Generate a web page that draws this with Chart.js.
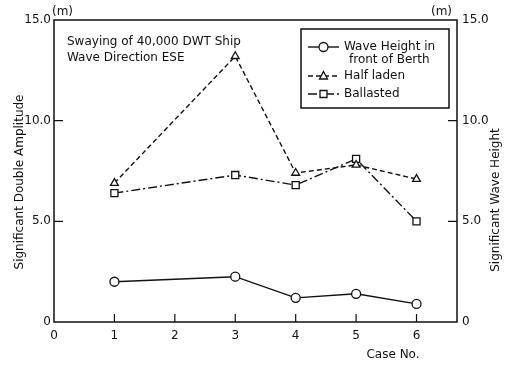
<!DOCTYPE html>
<html>
<head>
<meta charset="utf-8">
<script src="https://cdn.jsdelivr.net/npm/chart.js@4.4.1/dist/chart.umd.min.js"></script>
<style>
  body { margin: 0; background: #ffffff; }
  #chartCanvas { display: block; }
</style>
</head>
<body>
<canvas id="chartCanvas" width="507" height="367"></canvas>
<script>
"use strict";

// Data
const caseNos = [1, 3, 4, 5, 6];
const waveHeight = [2.0, 2.25, 1.2, 1.4, 0.9];     // Wave Height in front of Berth (right axis)
const halfLaden = [6.9, 13.2, 7.4, 7.8, 7.1];      // Half laden
const ballasted = [6.4, 7.3, 6.8, 8.1, 5.0];       // Ballasted
const yTicks = [0, 5, 10, 15];
const xTicks = [0, 1, 2, 3, 4, 5, 6];

const font = "DejaVu Sans";
const ink = "#111111";

function toPoints(values) {
    return caseNos.map((c, i) => ({x: c, y: values[i]}));
}

// Draw one marker shape (used by the legend)
function drawMarker(ctx, style, x, y) {
    ctx.save();
    ctx.setLineDash([]);
    ctx.fillStyle = "#ffffff";
    ctx.strokeStyle = ink;
    ctx.lineWidth = 1.3;
    ctx.beginPath();
    if (style == "circle") {
        ctx.arc(x, y, 4.5, 0, Math.PI * 2);
    } else if (style == "triangle") {
        ctx.moveTo(x, y - 4.5);
        ctx.lineTo(x + 4, y + 3);
        ctx.lineTo(x - 4, y + 3);
        ctx.closePath();
    } else {
        ctx.rect(x - 3.5, y - 3.5, 7, 7);
    }
    ctx.fill();
    ctx.stroke();
    ctx.restore();
}

// Frame, inward ticks, titles and the boxed legend
const decorations = {
    id: "decorations",
    afterDraw(chart) {
        const ctx = chart.ctx;
        const area = chart.chartArea;
        const xs = chart.scales.x;
        const ys = chart.scales.y;
        ctx.save();
        ctx.strokeStyle = ink;
        ctx.lineWidth = 1.5;
        ctx.setLineDash([]);
        ctx.strokeRect(area.left, area.top, area.right - area.left, area.bottom - area.top);

        // inward tick marks
        ctx.lineWidth = 1.2;
        [5, 10].forEach((v) => {
            const py = ys.getPixelForValue(v);
            ctx.beginPath();
            ctx.moveTo(area.left, py); ctx.lineTo(area.left + 9, py);
            ctx.moveTo(area.right, py); ctx.lineTo(area.right - 9, py);
            ctx.stroke();
        });
        [1, 2, 3, 4, 5, 6].forEach((v) => {
            const px = xs.getPixelForValue(v);
            ctx.beginPath();
            ctx.moveTo(px, area.bottom); ctx.lineTo(px, area.bottom - 8);
            ctx.stroke();
        });

        ctx.fillStyle = ink;
        ctx.font = "12px '" + font + "'";
        ctx.textBaseline = "middle";
        ctx.textAlign = "left";
        ctx.fillText("(m)", 52, 12);
        ctx.fillText("(m)", 431, 12);
        ctx.fillText("Swaying of 40,000 DWT Ship", 67, 42);
        ctx.fillText("Wave Direction ESE", 67, 58);
        ctx.textAlign = "center";
        ctx.fillText("Case No.", 393, 355);

        // axis titles, both read bottom to top
        ctx.save();
        ctx.translate(20, 182);
        ctx.rotate(-Math.PI / 2);
        ctx.fillText("Significant Double Amplitude", 0, 0);
        ctx.restore();
        ctx.save();
        ctx.translate(496, 200);
        ctx.rotate(-Math.PI / 2);
        ctx.fillText("Significant Wave Height", 0, 0);
        ctx.restore();

        // legend box
        ctx.lineWidth = 1.5;
        ctx.strokeRect(301, 29, 148, 79);
        const entries = [
            {y: 47, dash: [], marker: "circle", lines: ["Wave Height in", "front of Berth"]},
            {y: 76, dash: [5, 3], marker: "triangle", lines: ["Half laden"]},
            {y: 94, dash: [9, 3, 2, 3], marker: "rect", lines: ["Ballasted"]}
        ];
        ctx.textAlign = "left";
        entries.forEach((e) => {
            ctx.setLineDash(e.dash);
            ctx.lineWidth = 1.4;
            ctx.beginPath();
            ctx.moveTo(308, e.y); ctx.lineTo(339, e.y);
            ctx.stroke();
            drawMarker(ctx, e.marker, 323.5, e.y);
            ctx.fillText(e.lines[0], 344, e.y);
            if (e.lines[1]) {
                ctx.fillText(e.lines[1], 349, e.y + 13);
            }
        });
        ctx.restore();
    }
};

const config = {
    type: "scatter",
    data: {
        datasets: [{
            label: "Wave Height in front of Berth",
            yAxisID: "y2",
            data: toPoints(waveHeight),
            borderColor: ink,
            borderWidth: 1.4,
            pointStyle: "circle",
            pointRadius: 4.5,
            pointBorderWidth: 1.3,
            pointBackgroundColor: "#ffffff",
            pointBorderColor: ink
        },
        {
            label: "Half laden",
            data: toPoints(halfLaden),
            borderColor: ink,
            borderWidth: 1.4,
            borderDash: [5, 3],
            pointStyle: "triangle",
            pointRadius: 4.5,
            pointBorderWidth: 1.3,
            pointBackgroundColor: "#ffffff",
            pointBorderColor: ink
        },
        {
            label: "Ballasted",
            data: toPoints(ballasted),
            borderColor: ink,
            borderWidth: 1.4,
            borderDash: [9, 3, 2, 3],
            pointStyle: "rect",
            pointRadius: 5,
            pointBorderWidth: 1.3,
            pointBackgroundColor: "#ffffff",
            pointBorderColor: ink
        }]
    },
    options: {
        responsive: false,
        animation: false,
        showLine: true,
        layout: {padding: {top: 20}},
        plugins: {
            legend: {display: false},
            title: {display: false},
            tooltip: {enabled: false}
        },
        scales: {
            x: {
                type: "linear",
                min: 0,
                max: 6.67,
                grid: {display: false, drawTicks: false},
                border: {display: false},
                afterBuildTicks: (scale) => {
                    scale.ticks = xTicks.map((v) => ({value: v}));
                },
                afterFit: (scale) => { scale.height = 45; },
                ticks: {color: ink, padding: 7, font: {family: font, size: 12}}
            },
            y: {
                type: "linear",
                position: "left",
                min: 0,
                max: 15,
                grid: {display: false, drawTicks: false},
                border: {display: false},
                afterBuildTicks: (scale) => {
                    scale.ticks = yTicks.map((v) => ({value: v}));
                },
                afterFit: (scale) => { scale.width = 54; },
                ticks: {
                    color: ink, padding: 3, font: {family: font, size: 12},
                    callback: (v) => (v == 0 ? "0" : v.toFixed(1))
                }
            },
            y2: {
                type: "linear",
                position: "right",
                min: 0,
                max: 15,
                grid: {display: false, drawTicks: false},
                border: {display: false},
                afterBuildTicks: (scale) => {
                    scale.ticks = yTicks.map((v) => ({value: v}));
                },
                afterFit: (scale) => { scale.width = 50; },
                ticks: {
                    color: ink, padding: 5, font: {family: font, size: 12},
                    callback: (v) => (v == 0 ? "0" : v.toFixed(1))
                }
            }
        }
    },
    plugins: [decorations]
};

const ctx = document.getElementById("chartCanvas").getContext("2d");
const chart = new Chart(ctx, config);
</script>
</body>
</html>
